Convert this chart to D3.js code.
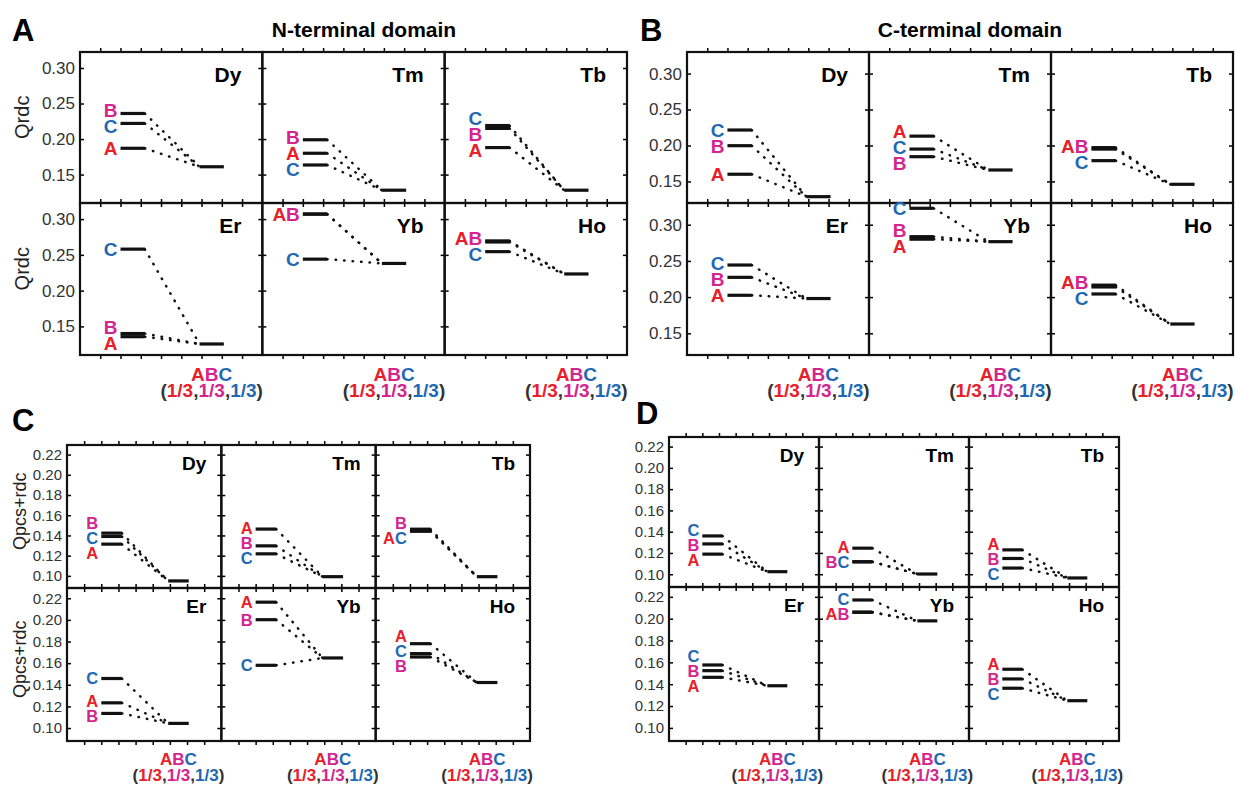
<!DOCTYPE html>
<html>
<head>
<meta charset="utf-8">
<script src="https://cdn.jsdelivr.net/npm/d3@7"></script>
<style>
  body { margin: 0; background: #fff; }
  svg { display: block; font-family: "Liberation Sans", Arial, sans-serif; }
</style>
</head>
<body>
<svg id="fig" width="1235" height="787"></svg>
<script>
// ---- data ----
var elements = ["Dy", "Tm", "Tb", "Er", "Yb", "Ho"];
var compColors = { A: "#e8202a", B: "#d4258f", C: "#1f69b3" };
var rdcTicks = [0.15, 0.20, 0.25, 0.30];
var pcsTicks = [0.10, 0.12, 0.14, 0.16, 0.18, 0.20, 0.22];
var mixName = "ABC";
var mixWeights = ["1/3", "1/3", "1/3"];

// A: N-terminal domain, Qrdc
var nRdcA   = [0.187, 0.180, 0.188, 0.1356, 0.307, 0.2695];
var nRdcB   = [0.236, 0.199, 0.215, 0.140, 0.307, 0.268];
var nRdcC   = [0.222, 0.1635, 0.219, 0.258, 0.244, 0.2545];
var nRdcMix = [0.161, 0.128, 0.128, 0.1254, 0.238, 0.2233];
var nRdcLabels = ["B|C|A", "B|A|C", "C|B|A", "C|B|A", "AB|C", "AB|C"];

// B: C-terminal domain, Qrdc
var cRdcA   = [0.160, 0.213, 0.197, 0.2025, 0.280, 0.2165];
var cRdcB   = [0.1997, 0.1844, 0.195, 0.2273, 0.2835, 0.214];
var cRdcC   = [0.2215, 0.195, 0.1789, 0.2443, 0.3227, 0.2043];
var cRdcMix = [0.1288, 0.1659, 0.146, 0.198, 0.2766, 0.1628];
var cRdcLabels = ["C|B|A", "A|C|B", "AB|C", "C|B|A", "C|B|A", "AB|C"];

// C: N-terminal domain, Qpcs+rdc
var nPcsA   = [0.1314, 0.1463, 0.1445, 0.1233, 0.2164, 0.178];
var nPcsB   = [0.1423, 0.1297, 0.1462, 0.1135, 0.2002, 0.1657];
var nPcsC   = [0.139, 0.1218, 0.1442, 0.1458, 0.158, 0.1688];
var nPcsMix = [0.095, 0.0992, 0.0992, 0.1043, 0.1648, 0.1421];
var nPcsLabels = ["B|C|A", "A|B|C", "B|AC", "C|A|B", "A|B|C", "A|C|B"];

// D: C-terminal domain, Qpcs+rdc
var cPcsA   = [0.1189, 0.1245, 0.1229, 0.1463, 0.2059, 0.1537];
var cPcsB   = [0.1285, 0.1117, 0.1148, 0.1524, 0.2059, 0.1448];
var cPcsC   = [0.136, 0.1117, 0.1058, 0.1576, 0.2171, 0.1363];
var cPcsMix = [0.1024, 0.1002, 0.0965, 0.1386, 0.198, 0.1249];
var cPcsLabels = ["C|B|A", "A|BC", "A|B|C", "C|B|A", "C|AB", "A|B|C"];

// ---- layout ----
var big   = { label: 19, title: 21, tick: 17, ytitle: 20, xlab: 19, gap: 16, inset: 21, base: 30, xl1: 26, xl2: 42 };
var small = { label: 16.5, title: 19, tick: 15, ytitle: 18, xlab: 17, gap: 15, inset: 15, base: 25, xl1: 24, xl2: 40 };

var panels = [
  { letter: "A", lx: 12, ly: 41, title: "N-terminal domain", tx: 364, ty: 37, ylabel: "Qrdc", ylx: 22,
    A: nRdcA, B: nRdcB, C: nRdcC, mix: nRdcMix, labels: nRdcLabels, ticks: rdcTicks,
    left: 80, right: 627, rows: [52, 203, 355], domain: [0.11, 0.3225], st: big },
  { letter: "B", lx: 640, ly: 41, title: "C-terminal domain", tx: 970, ty: 37, ylabel: null,
    A: cRdcA, B: cRdcB, C: cRdcC, mix: cRdcMix, labels: cRdcLabels, ticks: rdcTicks,
    left: 687, right: 1233, rows: [52, 203, 355], domain: [0.12, 0.33], st: big },
  { letter: "C", lx: 12, ly: 431, title: null, ylabel: "Qpcs+rdc", ylx: 20,
    A: nPcsA, B: nPcsB, C: nPcsC, mix: nPcsMix, labels: nPcsLabels, ticks: pcsTicks,
    left: 67, right: 530, rows: [445, 588, 741], domain: [0.088, 0.2295], st: small },
  { letter: "D", lx: 636, ly: 424, title: null, ylabel: null,
    A: cPcsA, B: cPcsB, C: cPcsC, mix: cPcsMix, labels: cPcsLabels, ticks: pcsTicks,
    left: 669, right: 1119, rows: [437, 587, 741], domain: [0.088, 0.229], st: small }
];

// label positions: keep order, at least `gap` apart, as near the bars as possible
function spread(targets, gap) {
  var blocks = [];
  targets.forEach(function (t, i) {
    blocks.push({ sum: t - i * gap, n: 1, start: i });
    while (blocks.length > 1) {
      var b = blocks[blocks.length - 1], a = blocks[blocks.length - 2];
      if (a.sum / a.n > b.sum / b.n) { a.sum += b.sum; a.n += b.n; blocks.pop(); }
      else break;
    }
  });
  var out = [];
  blocks.forEach(function (b) {
    for (var k = 0; k < b.n; k++) out.push(b.sum / b.n + (b.start + k) * gap);
  });
  return out;
}

var svg = d3.select("#fig");
var fmt = d3.format(".2f");

panels.forEach(function (p) {
  var st = p.st;
  var cw = (p.right - p.left) / 3;
  var g = svg.append("g");

  g.append("text").attr("x", p.lx).attr("y", p.ly)
    .attr("font-size", 31).attr("font-weight", "bold").text(p.letter);
  if (p.title) {
    g.append("text").attr("x", p.tx).attr("y", p.ty).attr("text-anchor", "middle")
      .attr("font-size", 21).attr("font-weight", "bold").text(p.title);
  }

  elements.forEach(function (el, i) {
    var col = i % 3, row = Math.floor(i / 3);
    var x0 = p.left + col * cw, y0 = p.rows[row], y1 = p.rows[row + 1];
    var x = d3.scaleLinear().domain([0, 9]).range([x0, x0 + cw]);
    var y = d3.scaleLinear().domain(p.domain).range([y1, y0]);
    var cell = g.append("g");

    // inward ticks on all four sides
    var tk = [
      [d3.axisTop(x).tickValues(d3.range(1, 9)), "translate(0," + y1 + ")"],
      [d3.axisBottom(x).tickValues(d3.range(1, 9)), "translate(0," + y0 + ")"],
      [d3.axisRight(y).tickValues(p.ticks), "translate(" + (x0 + cw) + ",0)"]
    ];
    tk.forEach(function (t) {
      cell.append("g").attr("transform", t[1])
        .call(t[0].tickSize(-4).tickFormat(""))
        .call(function (a) { a.select(".domain").remove(); a.selectAll("line").attr("stroke-width", 1.5); });
    });
    var yl = cell.append("g").attr("transform", "translate(" + x0 + ",0)")
      .call(d3.axisLeft(y).tickValues(p.ticks).tickSizeInner(-4).tickSizeOuter(0)
        .tickPadding(col === 0 ? 5 : 0).tickFormat(col === 0 ? fmt : ""));
    yl.select(".domain").remove();
    yl.selectAll("line").attr("stroke-width", 1.5);
    yl.selectAll("text").attr("font-size", st.tick).attr("fill", "#333")
      .attr("font-family", "'Liberation Sans', Arial, sans-serif");

    cell.append("rect").attr("x", x0).attr("y", y0).attr("width", cw).attr("height", y1 - y0)
      .attr("fill", "none").attr("stroke", "#111").attr("stroke-width", 2.2);

    // element name
    cell.append("text").attr("x", x0 + cw - st.inset).attr("y", y0 + st.base)
      .attr("text-anchor", "end").attr("font-size", st.title).attr("font-weight", "bold").text(el);

    // dotted links, then level bars
    var comps = ["A", "B", "C"];
    cell.selectAll(".link").data(comps).enter().append("line")
      .attr("x1", x(3.2)).attr("x2", x(5.9))
      .attr("y1", function (c) { return y(p[c][i]); })
      .attr("y2", y(p.mix[i]))
      .attr("stroke", "#111").attr("stroke-width", 2.5)
      .attr("stroke-linecap", "round").attr("stroke-dasharray", "0.5,8");
    cell.selectAll(".lvl").data(comps).enter().append("line")
      .attr("x1", x(2.0)).attr("x2", x(3.2))
      .attr("y1", function (c) { return y(p[c][i]); })
      .attr("y2", function (c) { return y(p[c][i]); })
      .attr("stroke", "#111").attr("stroke-width", 3.2);
    cell.append("line").attr("x1", x(5.9)).attr("x2", x(7.1))
      .attr("y1", y(p.mix[i])).attr("y2", y(p.mix[i]))
      .attr("stroke", "#111").attr("stroke-width", 3.2);

    // component labels
    var groups = p.labels[i].split("|");
    var targets = groups.map(function (gr) {
      return d3.mean(gr.split(""), function (c) { return y(p[c][i]); });
    });
    var pos = spread(targets, st.gap);
    groups.forEach(function (gr, k) {
      var t = cell.append("text").attr("x", x(2.0) - 3).attr("y", pos[k]).attr("dy", "0.36em")
        .attr("text-anchor", "end").attr("font-size", st.label).attr("font-weight", "bold");
      gr.split("").forEach(function (c) {
        t.append("tspan").attr("fill", compColors[c]).text(c);
      });
    });

    // x label under bottom row
    if (row === 1) {
      var t1 = cell.append("text").attr("x", x(6.5)).attr("y", y1 + st.xl1)
        .attr("text-anchor", "middle").attr("font-size", st.xlab).attr("font-weight", "bold");
      mixName.split("").forEach(function (c) {
        t1.append("tspan").attr("fill", compColors[c]).text(c);
      });
      var t2 = cell.append("text").attr("x", x(6.5)).attr("y", y1 + st.xl2)
        .attr("text-anchor", "middle").attr("font-size", st.xlab).attr("font-weight", "bold")
        .attr("fill", "#333");
      t2.append("tspan").text("(");
      mixWeights.forEach(function (w, k) {
        t2.append("tspan").attr("fill", compColors["ABC"[k]]).text(w);
        t2.append("tspan").text(k < 2 ? "," : ")");
      });
    }

    // y-axis title
    if (p.ylabel && col === 0) {
      var ym = y((p.ticks[0] + p.ticks[p.ticks.length - 1]) / 2) - 4;
      cell.append("text").attr("transform", "translate(" + p.ylx + "," + ym + ") rotate(-90)")
        .attr("text-anchor", "middle").attr("dy", "0.35em")
        .attr("font-size", st.ytitle).attr("fill", "#222").text(p.ylabel);
    }
  });
});
</script>
</body>
</html>
